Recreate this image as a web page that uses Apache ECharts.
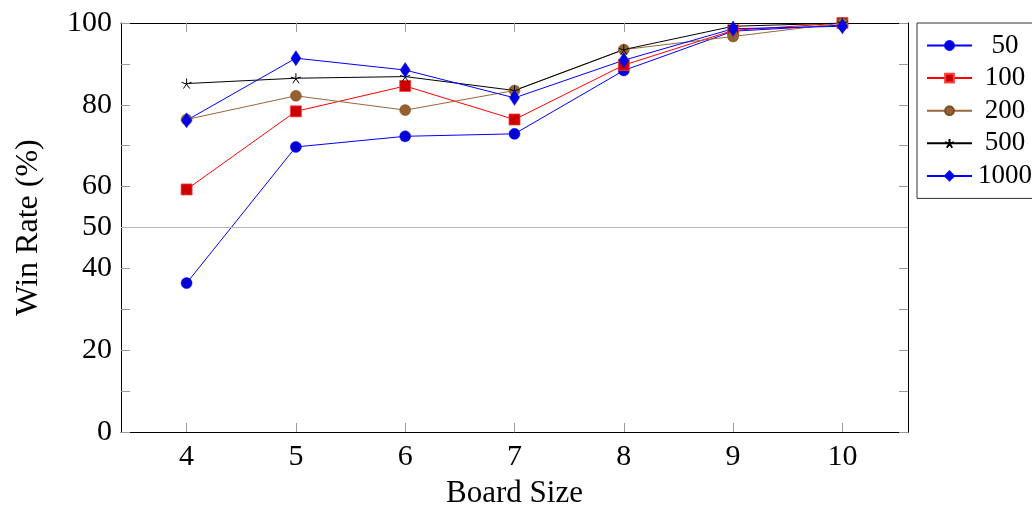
<!DOCTYPE html>
<html>
<head>
<meta charset="utf-8">
<script src="https://cdn.jsdelivr.net/npm/echarts@6/dist/echarts.min.js"></script>
<style>
html,body{margin:0;padding:0;background:#fff;}
#chart{width:1032px;height:506px;}
</style>
</head>
<body>
<div id="chart"></div>
<script>
const boardSizes = [4, 5, 6, 7, 8, 9, 10];
const yLabelValues = [0, 20, 40, 50, 60, 80, 100];
const yTickValues = [0, 10, 20, 30, 40, 50, 60, 70, 80, 90, 100];
const seriesNames = ['50', '100', '200', '500', '1000'];
const win50 = [36.4, 69.7, 72.3, 72.9, 88.4, 98.0, 99.5];
const win100 = [59.3, 78.4, 84.6, 76.4, 89.7, 98.2, 100];
const win200 = [76.4, 82.2, 78.7, 83.5, 93.5, 96.7, 100];
const win500 = [85.2, 86.5, 86.9, 83.5, 93.5, 99.2, 100];
const win1000 = [76.2, 91.4, 88.5, 81.7, 90.9, 98.6, 99.2];

const FONT = '"Liberation Serif", "DejaVu Serif", serif';
const pair = vals => boardSizes.map((b, i) => [b, vals[i]]);
const starPath = 'path://M10,10L10,0M10,10L19.5,6.9M10,10L15.9,18.1M10,10L4.1,18.1M10,10L0.5,6.9';

const chart = echarts.init(document.getElementById('chart'));
const tickStyle = {show: true, inside: true, length: 9, lineStyle: {color: '#999', width: 1}};

chart.setOption({
  animation: false,
  backgroundColor: '#fff',
  grid: {left: 121, right: 124, top: 23, bottom: 74, show: false, containLabel: false, outerBoundsMode: 'none'},
  legend: {
    orient: 'vertical',
    left: 917,
    top: 23,
    padding: [9, 2, 9, 9],
    itemWidth: 45,
    itemHeight: 11,
    itemGap: 5.6,
    borderColor: '#333',
    borderWidth: 1,
    backgroundColor: '#fff',
    data: seriesNames,
    formatter: n => '{a|' + n + '}',
    textStyle: {
      rich: {a: {fontFamily: FONT, fontSize: 27, color: '#000', width: 56, align: 'center'}}
    }
  },
  xAxis: [{
    type: 'value', min: 3.4, max: 10.6,
    name: 'Board Size', nameLocation: 'middle', nameGap: 46,
    nameTextStyle: {fontFamily: FONT, fontSize: 31, color: '#000'},
    axisLine: {show: true, onZero: false, lineStyle: {color: '#000', width: 1}},
    axisTick: Object.assign({customValues: boardSizes}, tickStyle),
    axisLabel: {customValues: boardSizes, fontFamily: FONT, fontSize: 30, color: '#000', margin: 10},
    splitLine: {show: false}
  }, {
    type: 'value', min: 3.4, max: 10.6, position: 'top',
    axisLine: {show: true, onZero: false, lineStyle: {color: '#000', width: 1}},
    axisTick: Object.assign({customValues: boardSizes}, tickStyle),
    axisLabel: {show: false},
    splitLine: {show: false}
  }],
  yAxis: [{
    type: 'value', min: 0, max: 100,
    name: 'Win Rate (%)', nameLocation: 'middle', nameGap: 76,
    nameTextStyle: {fontFamily: FONT, fontSize: 32, color: '#000'},
    axisLine: {show: true, onZero: false, lineStyle: {color: '#000', width: 1}},
    axisTick: Object.assign({customValues: yTickValues}, tickStyle),
    axisLabel: {customValues: yLabelValues, fontFamily: FONT, fontSize: 30, color: '#000', margin: 9},
    splitLine: {show: false}
  }, {
    type: 'value', min: 0, max: 100, position: 'right',
    axisLine: {show: true, onZero: false, lineStyle: {color: '#000', width: 1}},
    axisTick: Object.assign({customValues: yTickValues}, tickStyle),
    axisLabel: {show: false},
    splitLine: {show: false}
  }],
  series: [{
    name: '50', type: 'line', data: pair(win50),
    symbol: 'circle', symbolSize: 11,
    lineStyle: {color: '#0000ff', width: 1},
    itemStyle: {color: '#0000d4', borderColor: '#0000ff', borderWidth: 0.5},
    markLine: {
      silent: true, symbol: 'none', label: {show: false},
      lineStyle: {color: '#b5b5b5', width: 1, type: 'solid'},
      data: [{yAxis: 50}]
    }
  }, {
    name: '100', type: 'line', data: pair(win100),
    symbol: 'rect', symbolSize: 11,
    lineStyle: {color: '#ff0000', width: 1},
    itemStyle: {color: '#cc0000', borderColor: '#ff4040', borderWidth: 0.8}
  }, {
    name: '200', type: 'line', data: pair(win200),
    symbol: 'circle', symbolSize: 11,
    lineStyle: {color: '#99663a', width: 1},
    itemStyle: {color: '#94612f', borderColor: '#7a4e25', borderWidth: 0.5}
  }, {
    name: '500', type: 'line', data: pair(win500),
    symbol: starPath, symbolSize: 10,
    lineStyle: {color: '#000', width: 1},
    itemStyle: {color: 'none', borderColor: '#000', borderWidth: 1}
  }, {
    name: '1000', type: 'line', data: pair(win1000),
    symbol: 'diamond', symbolSize: [10, 15],
    lineStyle: {color: '#0000ff', width: 1},
    itemStyle: {color: '#0000e0', borderColor: '#0000ff', borderWidth: 0.5}
  }]
});
</script>
</body>
</html>
